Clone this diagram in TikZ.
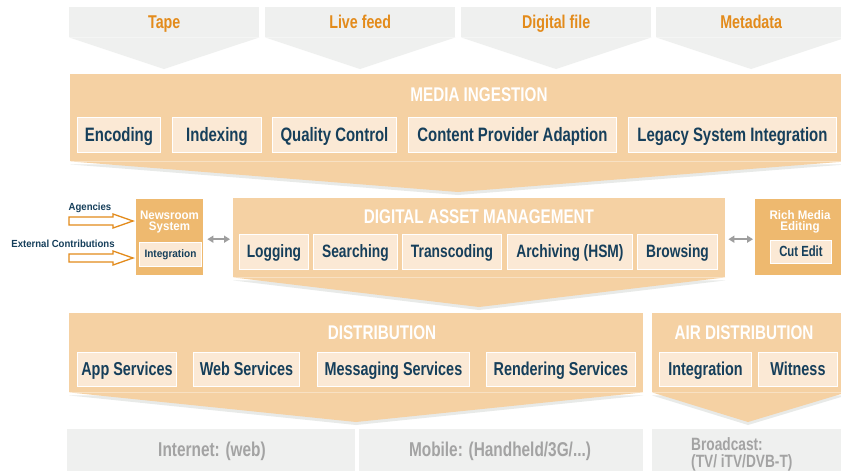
\documentclass[tikz,border=0pt]{standalone}
\usepackage{fontspec}
\setmainfont{Liberation Sans}[FakeStretch=0.77]
\newfontfamily\smallsans{Liberation Sans}[FakeStretch=0.93]
\usetikzlibrary{arrows.meta,calc}
\definecolor{chevgray}{HTML}{EFF0EF}
\definecolor{orangeT}{HTML}{E38B1B}
\definecolor{ingfill}{HTML}{F5D1A3}
\definecolor{boxfill}{HTML}{FBE9D5}
\definecolor{darkorg}{HTML}{EEB96F}
\definecolor{navy}{HTML}{163F5B}
\definecolor{graytext}{HTML}{A3A3A3}
\definecolor{shadowgray}{HTML}{E8EAE8}
\definecolor{arrowgray}{HTML}{9E9E9E}
\newcommand\fsz[2]{\bfseries\fontsize{#1}{#2}\selectfont}
\newcommand\ssz[2]{\smallsans\bfseries\fontsize{#1}{#2}\selectfont}
\newcommand\pointfill[3]{% #1 node, #2 point, #3 colour
  \fill[#3] (#1.south west) -- (#1.south east) -- #2 -- cycle;}
\newcommand\pointshadow[2]{%
  \fill[shadowgray] ($(#1.south west)+(0,3)$) -- ($(#1.south east)+(0,3)$) -- ($#2+(0,3)$) -- cycle;}
\begin{document}
\begin{tikzpicture}[x=1pt,y=-1pt,
  chev/.style={fill=chevgray, inner sep=0pt, anchor=north west, text=orangeT, text height=13.2pt, text depth=0pt, font=\fsz{18.5}{18}},
  panel/.style={fill=ingfill, inner sep=0pt, anchor=north west},
  darknode/.style={fill=darkorg, inner sep=0pt, anchor=north west},
  outbox/.style={fill=chevgray, inner sep=0pt, anchor=north west},
  item/.style={fill=boxfill, draw=white, line width=0.9pt, text=navy, inner sep=0pt, anchor=west, text depth=0pt},
  itemA/.style={item, minimum height=35, text height=13.9pt, font=\fsz{19.4}{19}},
  itemB/.style={item, minimum height=35, text height=12.8pt, font=\fsz{17.9}{18}},
  itemC/.style={item, minimum height=34, text height=13.4pt, font=\fsz{18.7}{19}},
  title/.style={text=white, inner sep=0pt, text height=14.2pt, text depth=0pt, font=\fsz{19.8}{20}},
  smalltitle/.style={text=white, inner sep=0pt, align=center, anchor=north, font=\ssz{12.4}{11.2}},
  outlabel/.style={text=graytext, inner sep=0pt, text height=14.3pt, text depth=0pt, font=\fsz{20}{20}},
  arrlabel/.style={text=navy, inner sep=0pt, text height=7.4pt, text depth=0pt, font=\ssz{10.3}{10}},
  dblarrow/.style={draw=arrowgray, line width=2pt, {Triangle[width=7pt,length=6pt]}-{Triangle[width=7pt,length=6pt]}},
  hollowarrow/.style={draw=orangeT, line width=1.3pt, fill=white, line join=miter,
    to path={let \p1=(\tikztostart), \p2=(\tikztotarget) in
      (\x1,\y1+4pt) -- (\x2-20pt,\y1+4pt) -- (\x2-20pt,\y1+7pt) -- (\x2,\y1) -- (\x2-20pt,\y1-7pt) -- (\x2-20pt,\y1-4pt) -- (\x1,\y1-4pt) -- cycle}}
]
\useasboundingbox (0,0) rectangle (841,471);
\clip (0,0) rectangle (841,471);
\fill[white] (0,0) rectangle (841,471);

% top chevrons
\node[chev, minimum width=190, minimum height=30] (tape) at (69,7) {Tape};
\node[chev, minimum width=190, minimum height=30] (live) at (265,7) {Live feed};
\node[chev, minimum width=190, minimum height=30] (digi) at (461,7) {Digital file};
\node[chev, minimum width=190, minimum height=30] (meta) at (656,7) {Metadata};
\pointfill{tape}{(164,69)}{chevgray}
\pointfill{live}{(360,69)}{chevgray}
\pointfill{digi}{(556,69)}{chevgray}
\pointfill{meta}{(751,69)}{chevgray}

% media ingestion
\node[panel, minimum width=776, minimum height=87] (ing) at (70,74) {};
\pointshadow{ing}{(458,192)}
\pointfill{ing}{(458,192)}{ingfill}
\node[title] (ingt) at (479,94) {MEDIA INGESTION};
\node[itemA, minimum width=83] (enc) at (77,134.5) {Encoding};
\node[itemA, minimum width=89] (idx) at (172,134.5) {Indexing};
\node[itemA, minimum width=124] (qc) at (272,134.5) {Quality Control};
\node[itemA, minimum width=208] (cpa) at (408,134.5) {Content Provider Adaption};
\node[itemA, minimum width=208] (lsi) at (628,134.5) {Legacy System Integration};

% digital asset management
\node[panel, minimum width=492, minimum height=79] (dam) at (233,198) {};
\pointshadow{dam}{(479,307)}
\pointfill{dam}{(479,307)}{ingfill}
\node[title] (damt) at (479,216) {DIGITAL ASSET MANAGEMENT};
\node[itemB, minimum width=69] (log) at (239,251.5) {Logging};
\node[itemB, minimum width=84] (sea) at (313,251.5) {Searching};
\node[itemB, minimum width=99] (tra) at (402,251.5) {Transcoding};
\node[itemB, minimum width=125] (arc) at (507,251.5) {Archiving (HSM)};
\node[itemB, minimum width=80] (bro) at (637,251.5) {Browsing};

% newsroom system
\node[darknode, minimum width=67, minimum height=76] (news) at (136,199) {};
\node[smalltitle] (newst) at (169.5,210.8) {Newsroom\\System};
\node[item, minimum width=62, minimum height=24, text height=7.7pt, font=\ssz{10.8}{11}] (nint) at (139,254) {Integration};

% rich media editing
\node[darknode, minimum width=91, minimum height=76] (rich) at (755,199) {};
\node[smalltitle] (richt) at (800,210.5) {Rich Media\\Editing};
\node[item, minimum width=61, minimum height=23, text height=10.5pt, font=\fsz{14.7}{15}] (cut) at (770,251.5) {Cut Edit};

% incoming arrows
\node[arrlabel] (agl) at (90,207) {Agencies};
\node[arrlabel] (exl) at (63,243.7) {External Contributions};
\coordinate (agS) at (69,221);
\coordinate (exS) at (69,258);
\path[hollowarrow] (agS) to ($(agS -| news.west)+(-3,0)$);
\path[hollowarrow] (exS) to ($(exS -| news.west)+(-3,0)$);

% grey double arrows
\draw[dblarrow] ($(news.east)+(4,2)$) -- ($(news.east -| dam.west)+(-3,2)$);
\draw[dblarrow] ($(dam.east)+(3,1.5)$) -- ($(dam.east -| rich.west)+(-2,1.5)$);

% distribution
\node[panel, minimum width=574, minimum height=79] (dist) at (69,313) {};
\pointshadow{dist}{(356,422)}
\pointfill{dist}{(356,422)}{ingfill}
\node[title] (distt) at (382,332) {DISTRIBUTION};
\node[itemC, minimum width=99] (app) at (77,369) {App Services};
\node[itemC, minimum width=106] (web) at (193,369) {Web Services};
\node[itemC, minimum width=152] (msg) at (317,369) {Messaging Services};
\node[itemC, minimum width=149] (ren) at (486,369) {Rendering Services};

% air distribution
\node[panel, minimum width=194, minimum height=79] (air) at (652,313) {};
\pointshadow{air}{(748,422)}
\pointfill{air}{(748,422)}{ingfill}
\node[title] (airt) at (744,332) {AIR DISTRIBUTION};
\node[itemC, minimum width=92] (aint) at (659,369) {Integration};
\node[itemC, minimum width=79] (wit) at (758,369) {Witness};

% outputs
\node[outbox, minimum width=288, minimum height=46] (inet) at (67,429) {};
\node[outbox, minimum width=284, minimum height=46] (mob) at (359,429) {};
\node[outbox, minimum width=194, minimum height=46] (bcast) at (652,429) {};
\node[outlabel] (inetl) at (212,449.5) {Internet: (web)};
\node[outlabel] (mobl) at (500,449.5) {Mobile: (Handheld/3G/...)};
\node[text=graytext, inner sep=0pt, anchor=north west, align=left, font=\fsz{17.8}{17.6}] (bcl) at (691,437) {Broadcast:\\(TV/ iTV/DVB-T)};
\end{tikzpicture}
\end{document}
